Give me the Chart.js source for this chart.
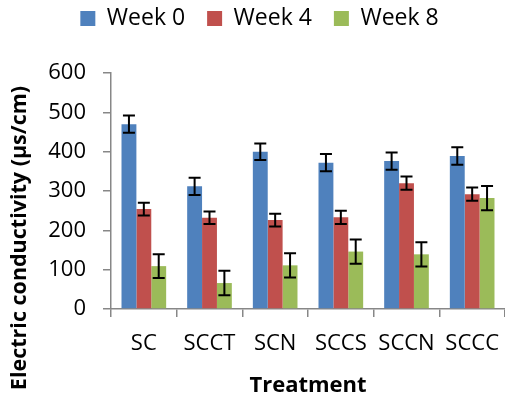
<!DOCTYPE html>
<html>
<head>
<meta charset="utf-8">
<script src="https://cdn.jsdelivr.net/npm/chart.js@4.4.1/dist/chart.umd.min.js"></script>
<style>
  html, body { margin: 0; padding: 0; background: #fff; }
  #wrap { width: 505px; height: 400px; }
</style>
</head>
<body>
<div id="wrap"><canvas id="ecChart" width="505" height="400"></canvas></div>
<script>
const categories = ['SC', 'SCCT', 'SCN', 'SCCS', 'SCCN', 'SCCC'];
const week0 = [470, 312, 400, 372, 376, 389];
const week4 = [254, 232, 226, 233, 320, 292];
const week8 = [109, 66, 111, 146, 139, 282];
const err0 = [22, 22, 21, 22, 22, 22];
const err4 = [16, 16, 16, 17, 17, 17];
const err8 = [30, 31, 31, 31, 31, 31];
const yTicks = [0, 100, 200, 300, 400, 500, 600];
const yTitle = 'Electric conductivity (µs/cm)';

const axisGray = '#878787';
const fontFam = "'Open Sans', sans-serif";

// draws the +/- error whiskers on top of each bar
const errorBars = {
    id: 'errorBars',
    afterDatasetsDraw(chart) {
        const ctx = chart.ctx;
        const yScale = chart.scales.y;
        ctx.save();
        ctx.strokeStyle = '#000';
        ctx.lineWidth = 2;
        chart.data.datasets.forEach((ds, i) => {
            const meta = chart.getDatasetMeta(i);
            meta.data.forEach((bar, j) => {
                const v = ds.data[j];
                const e = ds.errors[j];
                const top = yScale.getPixelForValue(v + e);
                const bot = yScale.getPixelForValue(v - e);
                const half = 6;
                ctx.beginPath();
                ctx.moveTo(bar.x, top);
                ctx.lineTo(bar.x, bot);
                ctx.moveTo(bar.x - half, top);
                ctx.lineTo(bar.x + half, top);
                ctx.moveTo(bar.x - half, bot);
                ctx.lineTo(bar.x + half, bot);
                ctx.stroke();
            });
        });
        ctx.restore();
    }
};

// legend keeps its items near the top but reserves more room below it
const legendRoom = {
    id: 'legendRoom',
    beforeLayout(chart) {
        const lg = chart.legend;
        if (lg && !lg._roomPatched) {
            const origFit = lg.fit;
            lg.fit = function() {
                origFit.call(this);
                this.height = 88;
            };
            lg._roomPatched = true;
        }
    }
};

// y axis title sits lower than the plot centre in the original
const yAxisTitle = {
    id: 'yAxisTitle',
    afterDraw(chart) {
        const ctx = chart.ctx;
        ctx.save();
        ctx.translate(20, 238);
        ctx.rotate(-Math.PI / 2);
        ctx.font = "bold 21.5px 'Open Sans', sans-serif";
        ctx.fillStyle = '#000';
        ctx.textAlign = 'center';
        ctx.textBaseline = 'middle';
        ctx.fillText(yTitle, 0, 0);
        ctx.restore();
    }
};

new Chart(document.getElementById('ecChart'), {
    type: 'bar',
    data: {
        labels: categories,
        datasets: [
            { label: 'Week 0', data: week0, errors: err0, backgroundColor: '#4F81BD' },
            { label: 'Week 4', data: week4, errors: err4, backgroundColor: '#C0504D' },
            { label: 'Week 8', data: week8, errors: err8, backgroundColor: '#9BBB59' }
        ]
    },
    options: {
        responsive: false,
        animation: false,
        categoryPercentage: 0.68,
        barPercentage: 1.0,
        layout: { padding: { top: -15, right: -2, left: 12, bottom: 0 } },
        plugins: {
            legend: {
                position: 'top',
                labels: {
                    boxWidth: 15,
                    boxHeight: 15,
                    padding: 22,
                    color: '#000',
                    font: { family: fontFam, size: 23 }
                }
            },
            tooltip: { enabled: false }
        },
        scales: {
            x: {
                afterFit(scale) {
                    scale.height = 91;
                    scale.paddingLeft = 0;
                    scale.paddingRight = 0;
                },
                grid: {
                    offset: true,
                    drawOnChartArea: false,
                    color: axisGray,
                    lineWidth: 1.5,
                    tickLength: 8
                },
                border: { color: axisGray, width: 1.5 },
                ticks: {
                    color: '#000',
                    padding: 14,
                    font: { family: fontFam, size: 22 }
                },
                title: {
                    display: true,
                    text: 'Treatment',
                    color: '#000',
                    padding: { top: 0, bottom: 1 },
                    font: { family: fontFam, size: 22, weight: 'bold' }
                }
            },
            y: {
                min: 0,
                max: 600,
                afterFit(scale) { scale.width = 99; },
                afterBuildTicks(scale) {
                    scale.ticks = yTicks.map(v => ({ value: v }));
                },
                grid: {
                    drawOnChartArea: false,
                    color: axisGray,
                    lineWidth: 1.5,
                    tickLength: 8
                },
                border: { color: axisGray, width: 1.5 },
                ticks: {
                    color: '#000',
                    padding: 17,
                    font: { family: fontFam, size: 22 }
                }
            }
        }
    },
    plugins: [errorBars, legendRoom, yAxisTitle]
});
</script>
</body>
</html>
